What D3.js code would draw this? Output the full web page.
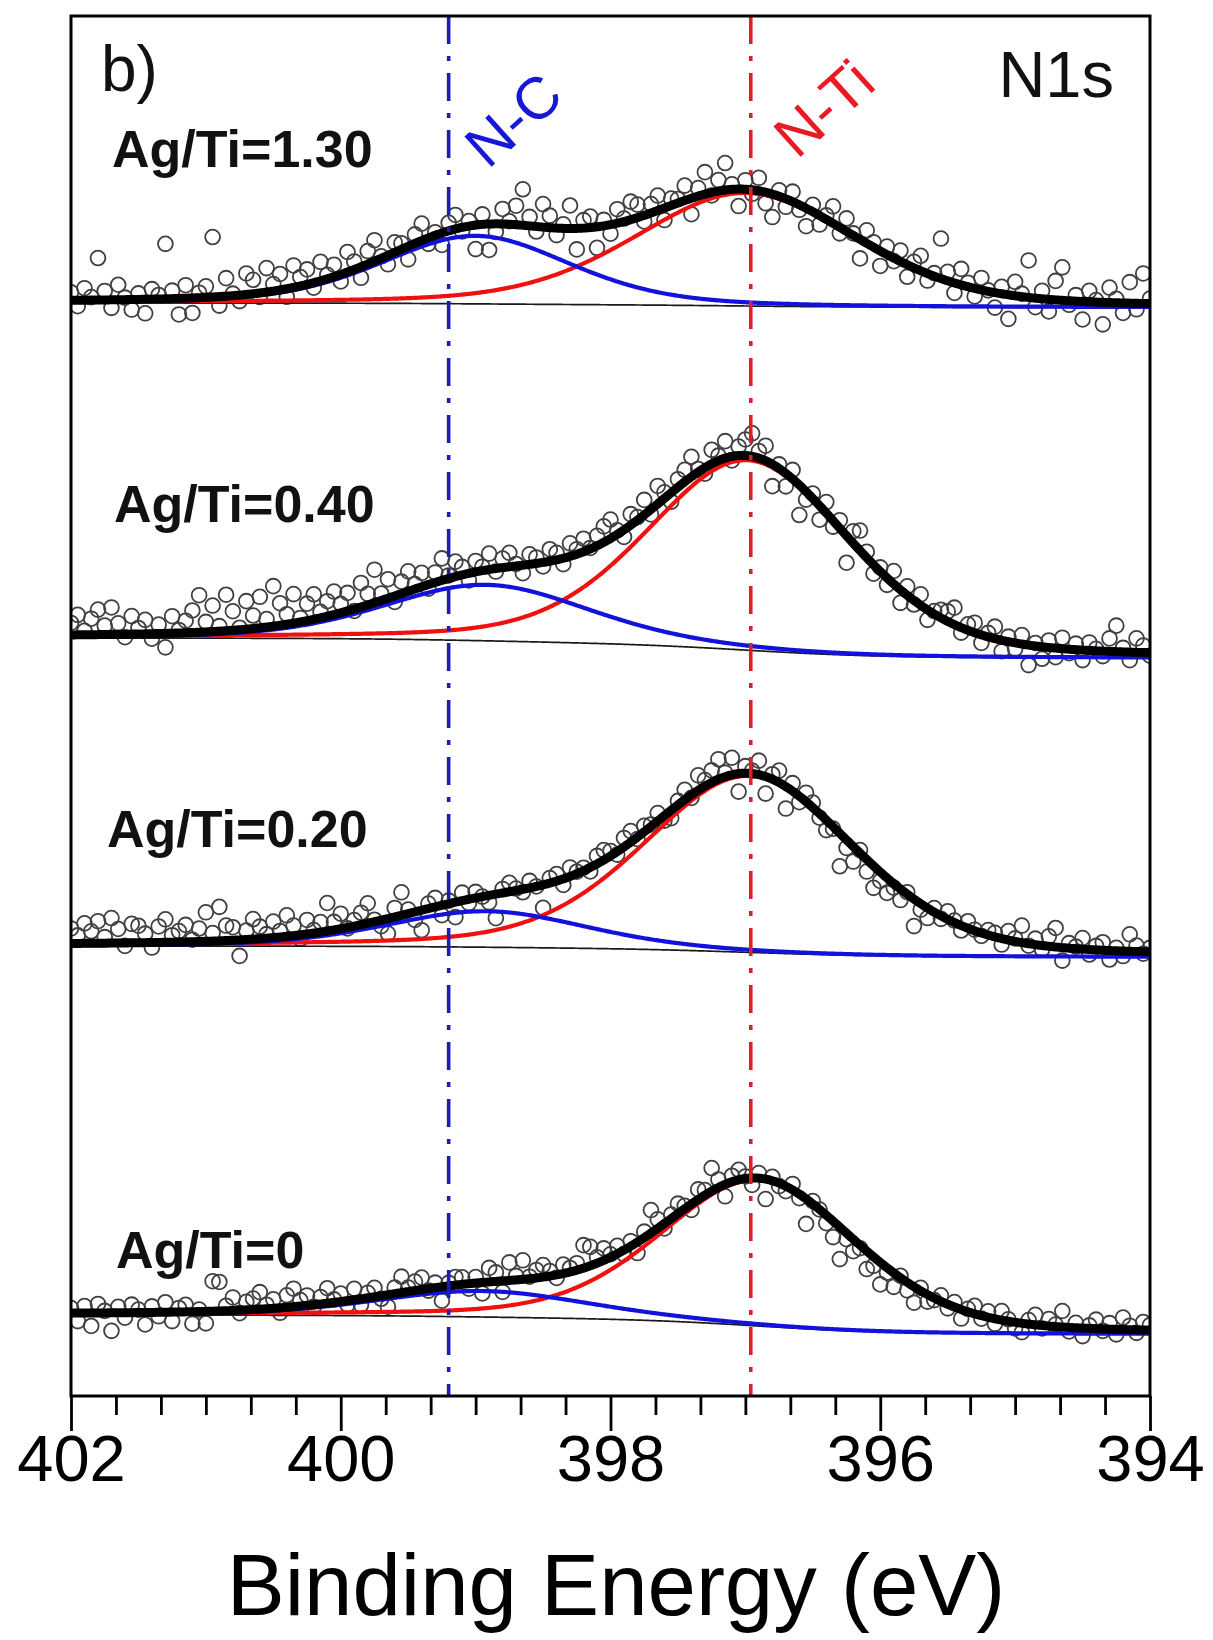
<!DOCTYPE html>
<html>
<head>
<meta charset="utf-8">
<script src="https://cdn.jsdelivr.net/npm/d3@7"></script>
<style>
  html, body { margin: 0; padding: 0; background: #ffffff; }
  svg { display: block; font-family: "Liberation Sans", Arial, Helvetica, sans-serif; }
</style>
</head>
<body>
<svg id="chart" width="1213" height="1640"></svg>
<script>
// ---------------------------------------------------------------
// N1s XPS spectra, four Ag/Ti ratios, with two-component peak fits
// ---------------------------------------------------------------

// axis ticks (binding energy, eV)
const energyTicks = [402, 400, 398, 396, 394];
const minorPerMajor = 6;

// spectra, top to bottom
const seriesLabels = ["Ag/Ti=1.30", "Ag/Ti=0.40", "Ag/Ti=0.20", "Ag/Ti=0"];

// Shirley background level at 402 eV and at 394 eV (a.u., stacked offsets included)
const bgHigh = [109.3, 75.8, 45.0, 8.1];
const bgLow = [108.85, 73.8, 43.9, 6.2];

// N-Ti component: centre (eV), height (a.u.), FWHM (eV)
const tiCenter = [397.0, 396.98, 396.97, 396.9];
const tiHeight = [11.3, 19.0, 17.65, 14.6];
const tiFwhm = [1.95, 1.78, 1.85, 1.72];

// N-C component: centre (eV), height (a.u.), FWHM (eV)
const ncCenter = [399.0, 398.92, 398.92, 398.95];
const ncHeight = [6.8, 5.6, 3.6, 2.6];
const ncFwhm = [1.65, 1.8, 1.75, 1.85];

// Gaussian-Lorentzian mixing of the fit line shape
const glMix = 0.3;

// reference lines for the two chemical states (eV)
const refLines = [
  { label: "N-C", energy: 399.2 },
  { label: "N-Ti", energy: 396.96 }
];

// measured counts minus the fitted envelope, one value every 0.05 eV from 402 eV down to 394 eV
const scanStart = 402, scanStep = 0.05;
const resid130 = [
  0.8,-0.6,1.2,0.3,4.2,0.9,-0.8,1.5,0.2,-1.0,
  0.6,-1.4,1.0,0.4,5.5,0.8,-1.6,1.3,-1.5,0.5,
  1.1,6.0,-0.9,1.8,0.2,-0.6,2.1,1.4,-0.4,2.4,
  0.7,1.6,-0.8,2.2,0.9,1.5,-0.5,1.9,0.4,1.2,
  -0.7,2.0,0.8,-1.1,1.3,2.1,0.2,-0.9,1.0,0.6,
  -1.3,0.9,1.7,-0.6,0.3,-1.2,0.8,1.4,-0.4,0.5,
  -2.4,1.0,-2.6,-0.8,1.5,0.3,1.9,3.6,0.9,-0.5,
  2.3,1.2,-0.7,0.4,2.3,-2.1,0.8,1.1,-2.1,0.6,
  -0.9,1.4,0.3,1.8,1.3,-0.6,0.9,1.5,-1.2,0.7,
  0.4,1.5,-1.6,0.8,2.2,-0.3,1.1,2.7,0.5,-1.7,
  0.9,-0.4,1.3,-1.1,-2.3,0.6,-0.8,1.0,-0.5,-1.8,
  0.7,-0.9,0.4,1.7,-0.6,1.3,0.2,-1.9,1.3,0.5,
  -1.5,0.8,-0.3,1.1,-1.2,0.6,1.5,-0.7,0.3,4.0,
  0.9,-1.0,1.6,0.4,-0.8,1.2,0.1,-1.5,0.7,-2.4,
  1.4,0.3,3.7,-0.9,0.8,-1.2,1.9,3.3,-0.4,0.6,
  -1.8,1.1,0.2,-2.2,1.5,0.4,-1.0,2.1,-0.6,3.0,0.5
];
const resid040 = [
  1.2,2.0,0.4,1.6,2.5,0.9,2.7,1.1,-0.3,1.8,
  0.6,1.4,-0.5,0.9,-1.4,1.7,0.3,1.2,2.2,3.7,
  1.0,2.6,0.5,3.6,1.9,0.2,2.8,1.3,3.1,0.8,
  4.0,2.2,1.0,2.9,0.4,1.7,2.5,0.6,1.5,2.3,
  0.9,1.8,-0.2,2.4,1.1,3.3,0.7,1.9,-0.6,1.2,
  2.0,0.5,1.4,-0.4,1.0,2.2,0.3,1.5,0.8,-0.7,
  1.1,0.4,1.6,-0.3,0.9,1.4,0.2,-0.8,1.0,0.6,
  -0.4,1.2,0.7,-0.6,1.3,0.5,1.3,0.1,1.0,1.6,
  1.9,0.4,-0.7,1.1,0.3,1.5,-0.5,1.8,0.6,-0.9,
  0.8,1.2,2.0,0.3,-0.6,1.4,0.5,1.7,-0.4,0.9,
  1.6,2.3,0.7,1.5,-2.2,0.4,-1.3,0.9,-3.0,-0.8,
  0.5,-1.4,1.1,-0.6,0.8,-2.7,1.2,2.0,0.6,-0.9,
  0.4,-0.7,1.3,-1.3,0.9,-0.4,1.1,-1.0,0.3,0.8,
  1.0,1.7,-0.5,0.6,1.0,-0.8,0.4,1.2,-1.1,0.5,
  -0.6,0.9,-2.0,0.3,-1.2,0.7,-0.9,1.1,-0.4,0.6,
  -1.0,0.8,0.2,-0.5,1.3,2.6,0.4,-0.8,1.4,0.7,-0.3
];
const resid020 = [
  1.5,0.8,2.0,1.2,2.2,0.6,2.5,1.4,-0.3,1.9,
  1.7,0.9,-0.5,1.6,2.3,0.7,1.1,1.7,0.2,1.3,
  2.9,0.8,3.4,1.5,1.3,-1.6,0.9,2.0,1.2,0.4,
  1.6,0.6,2.1,1.0,-0.4,1.4,0.3,1.0,2.8,0.8,
  1.5,-0.1,0.6,1.2,2.0,0.2,-0.6,-1.5,0.9,2.3,
  0.4,-0.8,-2.0,0.5,0.9,-1.0,0.3,-1.5,0.8,-0.4,
  0.6,0.0,-0.7,-2.4,0.4,0.9,0.2,-0.3,0.7,0.0,
  -2.3,0.5,0.7,-0.6,0.9,0.2,0.3,-0.4,0.8,1.0,
  0.5,-0.3,0.9,1.1,-0.2,0.6,0.2,0.8,-0.5,-0.8,
  0.4,1.0,-0.3,1.5,0.6,1.2,2.0,0.4,1.7,-1.8,
  0.7,0.3,1.4,-1.7,0.5,1.2,-2.2,0.8,-0.6,0.9,
  0.5,-0.4,-1.0,-0.2,-3.3,-0.8,-1.5,0.3,-1.2,-2.2,
  -0.9,-1.5,-0.4,-1.1,0.2,-2.7,-0.6,-1.0,0.4,-0.3,
  0.8,0.2,-0.5,0.7,0.1,-0.3,0.5,0.4,-0.6,0.9,
  0.3,1.7,-0.2,0.6,-0.4,1.0,1.9,-1.3,0.5,0.2,
  1.1,-0.5,0.4,0.8,-0.9,0.3,-0.5,1.7,0.6,-0.2,0.4
];
const resid000 = [
  0.5,-0.8,0.7,-1.3,0.9,0.2,-1.8,0.6,-0.5,0.8,
  0.3,-1.2,0.6,-0.4,1.0,-0.9,0.4,0.7,-1.2,0.2,
  -1.2,3.0,2.9,0.5,1.3,-0.3,0.8,1.1,1.7,0.4,
  0.9,-0.5,1.2,1.8,0.6,1.0,-0.2,0.7,1.5,0.3,
  0.8,-0.4,1.1,-0.6,0.5,0.9,-0.3,-1.2,0.6,1.6,
  0.4,0.9,1.2,-0.2,0.5,-1.4,0.3,0.8,0.7,-0.5,
  0.6,-1.1,1.4,0.9,-1.1,1.8,0.4,1.9,0.2,0.8,
  1.2,0.5,-0.3,0.9,0.4,0.7,2.3,1.9,0.6,1.2,
  0.3,0.8,-0.4,0.5,-1.1,0.6,2.3,0.9,-0.5,0.4,
  1.0,0.3,-0.6,1.0,0.5,2.3,0.8,-1.2,0.6,1.0,
  0.2,-0.7,0.5,-2.0,0.4,-0.3,-0.5,0.6,-0.4,-2.5,
  0.3,0.0,-0.8,-1.6,-3.2,-0.6,-1.2,-0.3,-1.8,-0.9,
  -2.2,-0.5,-1.4,0.2,-0.8,-1.6,0.3,-0.7,-0.2,0.6,
  -0.4,0.5,-0.9,0.3,0.8,-0.3,0.6,-0.5,0.9,0.2,
  -0.6,-0.9,0.4,1.0,-0.3,0.7,0.2,1.6,-0.4,0.5,
  -0.8,0.3,0.9,-0.2,0.6,-0.5,1.2,0.4,-0.3,0.8,0.5
];
const residuals = [resid130, resid040, resid020, resid000];

// ---------------------------------------------------------------
const plot = { left: 71, right: 1150, top: 16, bottom: 1396 };
const svg = d3.select("#chart");

const x = d3.scaleLinear().domain([402, 394]).range([plot.left, plot.right]);
const y = d3.scaleLinear().domain([0, 138]).range([plot.bottom, plot.top]);

svg.append("rect").attr("width", 1213).attr("height", 1640).attr("fill", "#ffffff");

svg.append("defs").append("clipPath").attr("id", "plotClip")
  .append("rect")
  .attr("x", plot.left).attr("y", plot.top)
  .attr("width", plot.right - plot.left).attr("height", plot.bottom - plot.top);

const body = svg.append("g").attr("clip-path", "url(#plotClip)");

// pseudo-Voigt line shape
function lineShape(E, c, h, w) {
  const u = (E - c) / w, u2 = u * u;
  return h * (glMix / (1 + 4 * u2) + (1 - glMix) * Math.exp(-4 * Math.LN2 * u2));
}

const fineStep = 0.01;
const nFine = Math.round((402 - 394) / fineStep) + 1;
const fineE = d3.range(nFine).map(k => 402 - k * fineStep);
const ratio = Math.round(scanStep / fineStep);

const line = d3.line().x(d => x(d.E)).y(d => y(d.v));

seriesLabels.forEach((label, s) => {
  const ti = fineE.map(E => lineShape(E, tiCenter[s], tiHeight[s], tiFwhm[s]));
  const nc = fineE.map(E => lineShape(E, ncCenter[s], ncHeight[s], ncFwhm[s]));

  // Shirley background: step proportional to peak area on the low-energy side
  const cum = new Array(nFine).fill(0);
  for (let k = nFine - 2; k >= 0; k--) {
    cum[k] = cum[k + 1] + 0.5 * (ti[k] + nc[k] + ti[k + 1] + nc[k + 1]) * fineStep;
  }
  const bg = cum.map(c => bgLow[s] + (bgHigh[s] - bgLow[s]) * c / cum[0]);

  const bgPts = fineE.map((E, k) => ({ E, v: bg[k] }));
  const tiPts = fineE.map((E, k) => ({ E, v: bg[k] + ti[k] }));
  const ncPts = fineE.map((E, k) => ({ E, v: bg[k] + nc[k] }));
  const envPts = fineE.map((E, k) => ({ E, v: bg[k] + ti[k] + nc[k] }));

  const measured = residuals[s].map((r, i) => ({
    E: scanStart - i * scanStep,
    v: envPts[i * ratio].v + r
  }));

  const g = body.append("g").attr("class", "spectrum");

  g.selectAll("circle").data(measured).join("circle")
    .attr("cx", d => x(d.E)).attr("cy", d => y(d.v)).attr("r", 7.4)
    .attr("fill", "none").attr("stroke", "#404040").attr("stroke-width", 1.8);

  g.append("path").datum(bgPts).attr("d", line)
    .attr("fill", "none").attr("stroke", "#1a1a1a").attr("stroke-width", 1.7);
  g.append("path").datum(tiPts).attr("d", line)
    .attr("fill", "none").attr("stroke", "#f01010").attr("stroke-width", 4.2);
  g.append("path").datum(ncPts).attr("d", line)
    .attr("fill", "none").attr("stroke", "#1212dc").attr("stroke-width", 4.2);
  g.append("path").datum(envPts).attr("d", line)
    .attr("fill", "none").attr("stroke", "#000000").attr("stroke-width", 9)
    .attr("stroke-linejoin", "round").attr("stroke-linecap", "round");
});

// chemical-state reference lines
const refColors = ["#1c1cb4", "#dc1f2a"];
refLines.forEach((r, i) => {
  svg.append("line")
    .attr("x1", x(r.energy)).attr("x2", x(r.energy))
    .attr("y1", plot.top).attr("y2", plot.bottom)
    .attr("stroke", refColors[i]).attr("stroke-width", 3.6)
    .attr("stroke-dasharray", "28,12,5,12");
});

// frame
svg.append("rect")
  .attr("x", plot.left).attr("y", plot.top)
  .attr("width", plot.right - plot.left).attr("height", plot.bottom - plot.top)
  .attr("fill", "none").attr("stroke", "#000").attr("stroke-width", 3);

// bottom axis: major and minor ticks
const minorTicks = d3.range(0, (energyTicks.length - 1) * minorPerMajor + 1)
  .filter(k => k % minorPerMajor !== 0)
  .map(k => 402 - k * 2 / minorPerMajor);

const minorAxis = svg.append("g").attr("transform", `translate(0,${plot.bottom})`)
  .call(d3.axisBottom(x).tickValues(minorTicks).tickSize(19).tickFormat(""));
minorAxis.select(".domain").remove();
minorAxis.selectAll("line").attr("stroke", "#000").attr("stroke-width", 2.8);

const majorAxis = svg.append("g").attr("transform", `translate(0,${plot.bottom})`)
  .call(d3.axisBottom(x).tickValues(energyTicks).tickSize(35).tickPadding(4).tickFormat(d3.format("d")));
majorAxis.select(".domain").remove();
majorAxis.selectAll("line").attr("stroke", "#000").attr("stroke-width", 2.8);
majorAxis.selectAll("text")
  .attr("font-size", 65).attr("fill", "#000")
  .attr("font-family", "'Liberation Sans', Arial, sans-serif");

// axis title
svg.append("text")
  .attr("x", 616).attr("y", 1615).attr("text-anchor", "middle")
  .attr("font-size", 87).attr("fill", "#000")
  .text("Binding Energy (eV)");

// panel tag and core level
svg.append("text").attr("x", 101).attr("y", 91)
  .attr("font-size", 64).attr("fill", "#111").text("b)");
svg.append("text").attr("x", 1114).attr("y", 97).attr("text-anchor", "end")
  .attr("font-size", 65).attr("fill", "#111").text("N1s");

// spectrum labels
const labelPos = [[112, 167], [114, 522], [107, 847], [116, 1268]];
seriesLabels.forEach((t, s) => {
  svg.append("text")
    .attr("x", labelPos[s][0]).attr("y", labelPos[s][1])
    .attr("font-size", 52).attr("font-weight", "bold").attr("fill", "#111")
    .text(t);
});

// rotated reference-line labels
const refLabelPos = [[488, 170], [797, 160]];
const refLabelColors = ["#1717d6", "#ea1a24"];
refLines.forEach((r, i) => {
  svg.append("text")
    .attr("transform", `translate(${refLabelPos[i][0]},${refLabelPos[i][1]}) rotate(-42)`)
    .attr("font-size", 59).attr("fill", refLabelColors[i])
    .text(r.label);
});
</script>
</body>
</html>
